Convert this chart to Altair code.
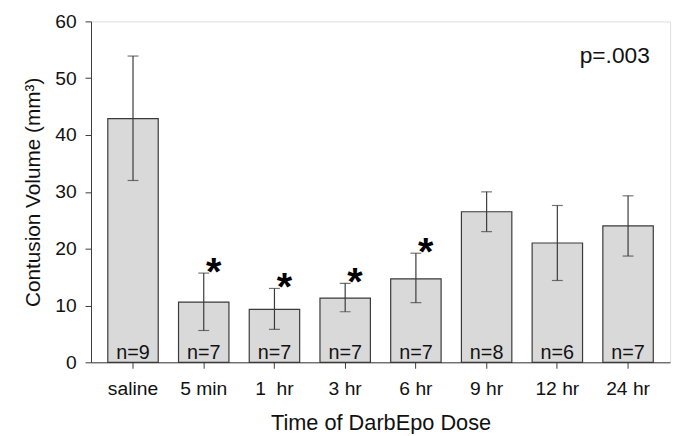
import altair as alt
import pandas as pd

categories = ["saline", "5 min", "1\u00a0 hr", "3 hr", "6 hr", "9 hr", "12 hr", "24 hr"]
means = [42.9, 10.6, 9.3, 11.3, 14.7, 26.5, 21.0, 24.0]
lower = [32.0, 5.6, 5.8, 8.9, 10.5, 23.0, 14.4, 18.7]
upper = [53.9, 15.7, 13.0, 13.9, 19.2, 30.0, 27.6, 29.3]
n_labels = ["n=9", "n=7", "n=7", "n=7", "n=7", "n=8", "n=6", "n=7"]
significant = [False, True, True, True, True, False, False, False]
p_text = "p=.003"

df = pd.DataFrame({
    "cat": categories, "mean": means, "lo": lower, "hi": upper,
    "n": n_labels, "sig": significant,
})

FONT = "Liberation Sans"
DARK = "#3a3a3a"

xenc = alt.X("cat:N", sort=categories,
             scale=alt.Scale(paddingInner=0.287, paddingOuter=0.2375),
             axis=alt.Axis(title="Time of DarbEpo Dose", labelAngle=0,
                           labelFontSize=19.5, labelFont=FONT, labelColor="#111",
                           labelBaseline="alphabetic", labelPadding=27,
                           tickSize=6, tickColor=DARK, domainColor=DARK,
                           titleFontSize=22, titleFont=FONT, titleFontWeight="normal",
                           titleColor="#111", titleX=293, titleY=68,
                           titleBaseline="alphabetic"))
yscale = alt.Scale(domain=[0, 60], nice=False)
yaxis = alt.Axis(title="Contusion Volume (mm³)", values=[0, 10, 20, 30, 40, 50, 60],
                 grid=False, labelFontSize=19.5, labelFont=FONT, labelColor="#111",
                 labelPadding=9, tickSize=6, tickColor=DARK, domainColor=DARK,
                 titleFontSize=21, titleFont=FONT, titleFontWeight="normal",
                 titleColor="#111", titleAngle=-90, titleX=-52, titleY=172.5,
                 titleBaseline="alphabetic", titleAlign="center")

base = alt.Chart(df)

bars = base.mark_bar(fill="#d9d9d9", stroke=DARK, strokeWidth=1.2).encode(
    x=xenc, y=alt.Y("mean:Q", scale=yscale, axis=yaxis))

err = base.mark_rule(color=DARK, strokeWidth=1.2).encode(
    x=alt.X("cat:N", sort=categories), y="lo:Q", y2="hi:Q")

cap_lo = base.mark_tick(color=DARK, size=11, thickness=1.2, orient="horizontal").encode(
    x=alt.X("cat:N", sort=categories), y="lo:Q")
cap_hi = base.mark_tick(color=DARK, size=11, thickness=1.2, orient="horizontal").encode(
    x=alt.X("cat:N", sort=categories), y="hi:Q")

ntext = base.mark_text(font=FONT, fontSize=20, color="#111", baseline="alphabetic",
                       dy=-3).encode(
    x=alt.X("cat:N", sort=categories), y=alt.datum(0), text="n:N")

stars = base.transform_filter("datum.sig").mark_text(
    font=FONT, fontSize=40, fontWeight="bold", color="#000",
    baseline="alphabetic", dx=10, dy=12).encode(
    x=alt.X("cat:N", sort=categories), y="hi:Q", text=alt.value("*"))

ptext = alt.Chart(pd.DataFrame({"t": [p_text]})).mark_text(
    font=FONT, fontSize=23, color="#111", align="center", baseline="alphabetic").encode(
    x=alt.value(530), y=alt.value(42), text="t:N")

chart = alt.layer(bars, err, cap_lo, cap_hi, ntext, stars, ptext).properties(
    width=586, height=345,
    autosize=alt.AutoSizeParams(type="none"),
    padding={"left": 84, "top": 11, "right": 6, "bottom": 70},
).configure_view(stroke=DARK, strokeWidth=1.2).configure(background="white")

chart.save("out.html", embed_options={"renderer": "svg", "actions": False})
